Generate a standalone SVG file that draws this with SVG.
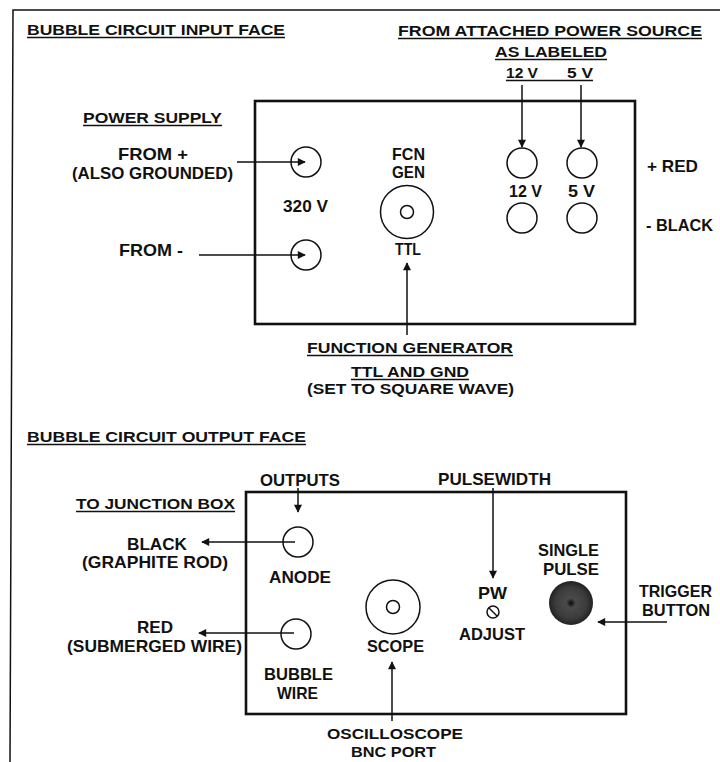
<svg xmlns="http://www.w3.org/2000/svg" width="720" height="762" viewBox="0 0 720 762">
<style>
text{font-family:"Liberation Sans",Arial,sans-serif;font-weight:bold;fill:#111}
.t{font-size:14.5px}
.b{font-size:16.5px}
.s{font-size:15px}
.box{fill:none;stroke:#111;stroke-width:2.6}
.c{fill:#fff;stroke:#111;stroke-width:1.5}
.ul{stroke:#111;stroke-width:1.6}
.w{stroke:#111;stroke-width:1.5;fill:none}
</style>
<defs>
<marker id="ah" viewBox="0 0 10 10" refX="9" refY="5" markerWidth="9" markerHeight="8" markerUnits="userSpaceOnUse" orient="auto">
<path d="M0,0 L10,5 L0,10 z" fill="#111"/>
</marker>
<radialGradient id="btn" cx="50%" cy="50%" r="50%">
<stop offset="0" stop-color="#0a0a0a"/>
<stop offset="0.22" stop-color="#4a4a4a"/>
<stop offset="0.7" stop-color="#3c3c3c"/>
<stop offset="1" stop-color="#222"/>
</radialGradient>
</defs>
<rect width="720" height="762" fill="#fff"/>
<g id="frame">
<path d="M720,10 L13,10 L10,762" class="w" stroke-width="2"/>
</g>

<g id="input-face-title">
<text class="t" x="27" y="35" textLength="258" lengthAdjust="spacingAndGlyphs">BUBBLE CIRCUIT INPUT FACE</text>
<line class="ul" x1="27" y1="37.5" x2="285" y2="37.5"/>
</g>
<g id="power-source-title">
<text class="t" x="398" y="36" textLength="304" lengthAdjust="spacingAndGlyphs">FROM ATTACHED POWER SOURCE</text>
<line class="ul" x1="398" y1="38.5" x2="702" y2="38.5"/>
<text class="t" x="495" y="57" textLength="112" lengthAdjust="spacingAndGlyphs">AS LABELED</text>
<line class="ul" x1="495" y1="59.5" x2="607" y2="59.5"/>
<text class="t" x="506" y="78" textLength="32" lengthAdjust="spacingAndGlyphs">12 V</text>
<text class="t" x="567" y="78" textLength="26" lengthAdjust="spacingAndGlyphs">5 V</text>
<line class="ul" x1="506" y1="80.5" x2="593" y2="80.5"/>
</g>
<g id="power-supply-label">
<text class="t" x="83" y="123" textLength="139" lengthAdjust="spacingAndGlyphs">POWER SUPPLY</text>
<line class="ul" x1="83" y1="125.5" x2="222" y2="125.5"/>
<text class="b" x="118" y="160" textLength="70" lengthAdjust="spacingAndGlyphs">FROM +</text>
<text class="b" x="72" y="179" textLength="161" lengthAdjust="spacingAndGlyphs">(ALSO GROUNDED)</text>
<text class="b" x="119" y="256" textLength="64" lengthAdjust="spacingAndGlyphs">FROM -</text>
</g>

<g id="input-box">
<rect class="box" x="255" y="101" width="380" height="223"/>
</g>
<g id="hv-terminals">
<circle class="c" cx="306" cy="162" r="15"/>
<circle class="c" cx="306" cy="255" r="15"/>
<text class="b" x="283" y="212" textLength="45" lengthAdjust="spacingAndGlyphs">320 V</text>
</g>
<g id="fcn-gen">
<text class="b" x="392" y="160" textLength="33" lengthAdjust="spacingAndGlyphs">FCN</text>
<text class="b" x="392" y="178" textLength="33" lengthAdjust="spacingAndGlyphs">GEN</text>
<circle class="c" cx="407" cy="212" r="26.5"/>
<circle class="c" cx="407" cy="212" r="6.5"/>
<text class="b" x="395" y="255" textLength="26" lengthAdjust="spacingAndGlyphs">TTL</text>
</g>
<g id="low-voltage-terminals">
<circle class="c" cx="522" cy="163" r="15"/>
<circle class="c" cx="582" cy="163" r="15"/>
<circle class="c" cx="522" cy="218" r="15"/>
<circle class="c" cx="582" cy="218" r="15"/>
<text class="b" x="509" y="197" textLength="33" lengthAdjust="spacingAndGlyphs">12 V</text>
<text class="b" x="568" y="197" textLength="27" lengthAdjust="spacingAndGlyphs">5 V</text>
</g>
<g id="polarity-labels">
<text class="b" x="647" y="172" textLength="51" lengthAdjust="spacingAndGlyphs">+ RED</text>
<text class="b" x="646" y="231" textLength="67" lengthAdjust="spacingAndGlyphs">- BLACK</text>
</g>
<g id="function-generator-label">
<text class="t" x="307" y="353" textLength="206" lengthAdjust="spacingAndGlyphs">FUNCTION GENERATOR</text>
<line class="ul" x1="307" y1="355.5" x2="513" y2="355.5"/>
<text class="t" x="351" y="377" textLength="118" lengthAdjust="spacingAndGlyphs">TTL AND GND</text>
<line class="ul" x1="351" y1="379.5" x2="469" y2="379.5"/>
<text class="t" x="307" y="394" textLength="207" lengthAdjust="spacingAndGlyphs">(SET TO SQUARE WAVE)</text>
</g>

<g id="output-face-title">
<text class="t" x="27" y="442" textLength="279" lengthAdjust="spacingAndGlyphs">BUBBLE CIRCUIT OUTPUT FACE</text>
<line class="ul" x1="27" y1="444.5" x2="306" y2="444.5"/>
</g>
<g id="junction-box-label">
<text class="t" x="76" y="509" textLength="159" lengthAdjust="spacingAndGlyphs">TO JUNCTION BOX</text>
<line class="ul" x1="76" y1="511.5" x2="235" y2="511.5"/>
<text class="b" x="127" y="550" textLength="60" lengthAdjust="spacingAndGlyphs">BLACK</text>
<text class="b" x="82" y="568" textLength="146" lengthAdjust="spacingAndGlyphs">(GRAPHITE ROD)</text>
<text class="b" x="137" y="633" textLength="36" lengthAdjust="spacingAndGlyphs">RED</text>
<text class="b" x="67" y="652" textLength="175" lengthAdjust="spacingAndGlyphs">(SUBMERGED WIRE)</text>
</g>
<g id="outputs-label">
<text class="b" x="260" y="486" textLength="80" lengthAdjust="spacingAndGlyphs">OUTPUTS</text>
</g>
<g id="pulsewidth-label">
<text class="b" x="438" y="485" textLength="113" lengthAdjust="spacingAndGlyphs">PULSEWIDTH</text>
</g>
<g id="output-box">
<rect class="box" x="246" y="492" width="380" height="222"/>
</g>
<g id="anode">
<circle class="c" cx="298" cy="542" r="15"/>
<text class="b" x="269" y="583" textLength="62" lengthAdjust="spacingAndGlyphs">ANODE</text>
</g>
<g id="bubble-wire">
<circle class="c" cx="296" cy="634" r="15"/>
<text class="b" x="264" y="680" textLength="69" lengthAdjust="spacingAndGlyphs">BUBBLE</text>
<text class="b" x="277" y="699" textLength="41" lengthAdjust="spacingAndGlyphs">WIRE</text>
</g>
<g id="scope">
<circle class="c" cx="393" cy="607" r="27"/>
<circle class="c" cx="393" cy="607" r="6.5"/>
<text class="b" x="367" y="652" textLength="57" lengthAdjust="spacingAndGlyphs">SCOPE</text>
</g>
<g id="pw-adjust">
<text class="b" x="478" y="599" textLength="29" lengthAdjust="spacingAndGlyphs">PW</text>
<circle class="c" cx="493" cy="612" r="6"/>
<line class="w" x1="489" y1="608" x2="497" y2="616"/>
<text class="b" x="459" y="640" textLength="66" lengthAdjust="spacingAndGlyphs">ADJUST</text>
</g>
<g id="single-pulse">
<text class="b" x="538" y="556" textLength="61" lengthAdjust="spacingAndGlyphs">SINGLE</text>
<text class="b" x="543" y="575" textLength="56" lengthAdjust="spacingAndGlyphs">PULSE</text>
<circle cx="571" cy="603" r="22" fill="url(#btn)"/>
</g>
<g id="trigger-label">
<text class="b" x="639" y="597" textLength="73" lengthAdjust="spacingAndGlyphs">TRIGGER</text>
<text class="b" x="642" y="616" textLength="68" lengthAdjust="spacingAndGlyphs">BUTTON</text>
</g>
<g id="oscilloscope-label">
<text class="s" x="327" y="739" textLength="136" lengthAdjust="spacingAndGlyphs">OSCILLOSCOPE</text>
<text class="s" x="351" y="756.5" textLength="85" lengthAdjust="spacingAndGlyphs">BNC PORT</text>
</g>

<g id="connectors" class="w" marker-end="url(#ah)">
<line x1="522" y1="85" x2="522" y2="147"/>
<line x1="581" y1="85" x2="581" y2="147"/>
<line x1="237" y1="162" x2="305" y2="162"/>
<line x1="199" y1="255" x2="305" y2="255"/>
<line x1="407" y1="335" x2="407" y2="263"/>
<line x1="298" y1="488" x2="298" y2="512"/>
<line x1="493" y1="488" x2="493" y2="578"/>
<line x1="295" y1="542" x2="202" y2="542"/>
<line x1="294" y1="633" x2="199" y2="633"/>
<line x1="392" y1="721" x2="392" y2="662"/>
<line x1="667" y1="622" x2="598" y2="622"/>
</g>
</svg>
